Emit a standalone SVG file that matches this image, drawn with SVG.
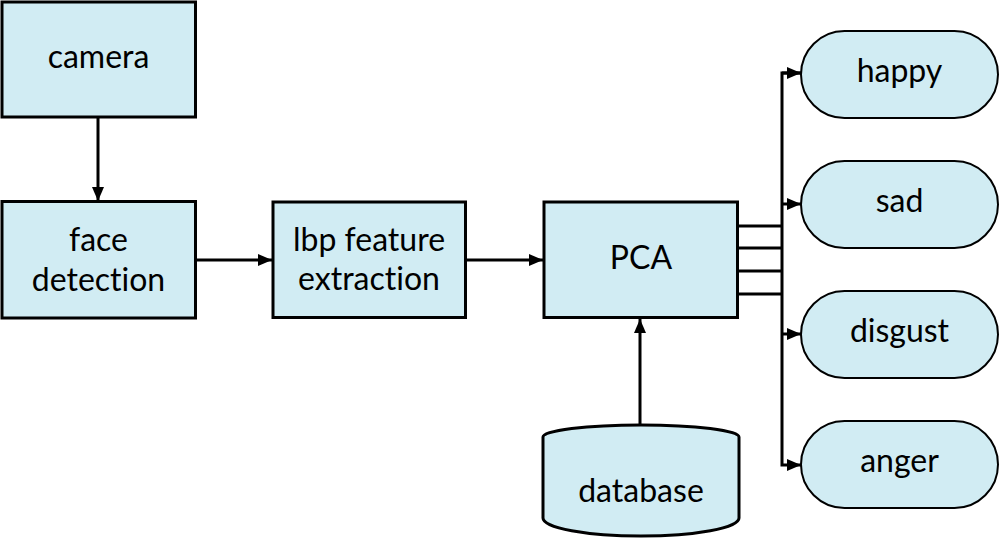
<svg xmlns="http://www.w3.org/2000/svg" width="1000" height="540" viewBox="0 0 1000 540">
<style>
.box{fill:#d1ecf3;stroke:#000;stroke-width:3}
.term{fill:#d1ecf3;stroke:#000;stroke-width:2}
.lbl{font-family:Lato,"Open Sans",sans-serif;font-size:32px;fill:#000;text-anchor:middle;font-variant-ligatures:none}
.c{fill:none;stroke:#000;stroke-width:3}
</style>
<defs>
<marker id="ah" markerUnits="userSpaceOnUse" markerWidth="14" markerHeight="12" refX="14" refY="6" orient="auto">
<path d="M0,0 L14,6 L0,12 z" fill="#000"/>
</marker>
</defs>
<rect width="1000" height="540" fill="#fff"/>
<g id="connectors">
<line class="c" x1="98" y1="118" x2="98" y2="201" marker-end="url(#ah)"/>
<line class="c" x1="196" y1="260" x2="272" y2="260" marker-end="url(#ah)"/>
<line class="c" x1="467" y1="260" x2="543" y2="260" marker-end="url(#ah)"/>
<line class="c" x1="640" y1="424" x2="640" y2="319" marker-end="url(#ah)"/>
<line class="c" x1="739" y1="226" x2="782" y2="226"/>
<line class="c" x1="739" y1="248" x2="782" y2="248"/>
<line class="c" x1="739" y1="271" x2="782" y2="271"/>
<line class="c" x1="739" y1="294" x2="782" y2="294"/>
<path class="c" d="M801,73 H782 V465 H801" marker-end="url(#ah)"/>
<path class="c" d="M782,73 H801" marker-end="url(#ah)"/>
<line class="c" x1="782" y1="204" x2="801" y2="204" marker-end="url(#ah)"/>
<line class="c" x1="782" y1="334" x2="801" y2="334" marker-end="url(#ah)"/>
</g>
<g id="camera">
<rect class="box" x="2" y="2" width="193.5" height="115"/>
<text class="lbl" x="98.5" y="68">camera</text>
</g>
<g id="face-detection">
<rect class="box" x="2" y="201.5" width="193.5" height="116.5"/>
<text class="lbl" x="98.5" y="251">face</text>
<text class="lbl" x="98.5" y="291">detection</text>
</g>
<g id="lbp">
<rect class="box" x="273" y="202" width="192.5" height="115.5"/>
<text class="lbl" x="369" y="251">lbp feature</text>
<text class="lbl" x="369" y="290">extraction</text>
</g>
<g id="pca">
<rect class="box" x="544" y="202" width="193.5" height="115.5"/>
<text class="lbl" x="641" y="269">PCA</text>
</g>
<g id="database">
<path class="box" d="M543,437 A98,12 0 0 1 739,437 V518 A98,18 0 0 1 543,518 Z"/>
<text class="lbl" x="641" y="502">database</text>
</g>
<g id="happy">
<rect class="term" x="801" y="31" width="197" height="87" rx="43.5"/>
<text class="lbl" x="899.5" y="82">happy</text>
</g>
<g id="sad">
<rect class="term" x="801" y="161" width="197" height="87" rx="43.5"/>
<text class="lbl" x="899.5" y="212">sad</text>
</g>
<g id="disgust">
<rect class="term" x="801" y="291" width="197" height="87" rx="43.5"/>
<text class="lbl" x="899.5" y="342">disgust</text>
</g>
<g id="anger">
<rect class="term" x="801" y="421" width="197" height="87" rx="43.5"/>
<text class="lbl" x="899.5" y="472">anger</text>
</g>
</svg>
